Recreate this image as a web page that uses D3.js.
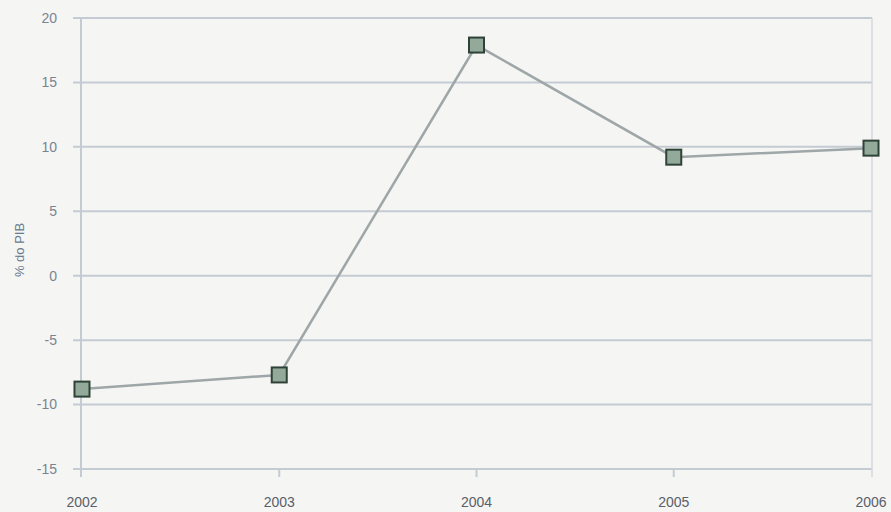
<!DOCTYPE html>
<html>
<head>
<meta charset="utf-8">
<script src="https://cdn.jsdelivr.net/npm/d3@7"></script>
<style>
  body { margin: 0; background: #f5f5f4; }
  text { font-family: "Liberation Sans", Arial, sans-serif; }
</style>
</head>
<body>
<svg id="chart" width="891" height="512"></svg>
<script>
// data
const years = ["2002", "2003", "2004", "2005", "2006"];
const values = [-8.8, -7.7, 17.9, 9.2, 9.9];
const yTicks = [-15, -10, -5, 0, 5, 10, 15, 20];

const svg = d3.select("#chart");
const margin = {left: 81, right: 19, top: 18, bottom: 43};
const width = 891 - margin.left - margin.right;
const height = 512 - margin.top - margin.bottom;

const x = d3.scalePoint().domain(years).range([0, width]).padding(0.005);
const y = d3.scaleLinear().domain([-15, 20]).range([height, 0]);

const g = svg.append("g").attr("transform", `translate(${margin.left},${margin.top})`);

// horizontal grid
g.selectAll(".grid")
  .data(yTicks)
  .join("line")
  .attr("x1", -8)
  .attr("x2", width)
  .attr("y1", d => y(d))
  .attr("y2", d => y(d))
  .attr("stroke", "#c5cbd3")
  .attr("stroke-width", 2);

// y axis line
g.append("line")
  .attr("x1", 0).attr("x2", 0)
  .attr("y1", 0).attr("y2", height + 8)
  .attr("stroke", "#c5cbd3")
  .attr("stroke-width", 2);

// right edge line
g.append("line")
  .attr("x1", width).attr("x2", width)
  .attr("y1", 0).attr("y2", height + 8)
  .attr("stroke", "#d4d8de")
  .attr("stroke-width", 1.5);

// x ticks
g.selectAll(".xtick")
  .data(years.slice(1, 4))
  .join("line")
  .attr("x1", d => x(d)).attr("x2", d => x(d))
  .attr("y1", height).attr("y2", height + 8)
  .attr("stroke", "#c5cbd3")
  .attr("stroke-width", 2);

// y tick labels
g.selectAll(".ylab")
  .data(yTicks)
  .join("text")
  .attr("x", -24)
  .attr("y", d => y(d))
  .attr("dy", "0.35em")
  .attr("text-anchor", "end")
  .attr("font-size", 14)
  .attr("fill", "#7a8490")
  .text(d => d);

// x tick labels
g.selectAll(".xlab")
  .data(years)
  .join("text")
  .attr("x", d => x(d))
  .attr("y", height + 38)
  .attr("text-anchor", "middle")
  .attr("font-size", 14)
  .attr("fill", "#5a6068")
  .text(d => d);

// y axis title
svg.append("text")
  .attr("transform", "translate(24,250) rotate(-90)")
  .attr("text-anchor", "middle")
  .attr("font-size", 13)
  .attr("fill", "#6a7a8e")
  .text("% do PIB");

// line
const line = d3.line()
  .x((d, i) => x(years[i]))
  .y(d => y(d));

g.append("path")
  .datum(values)
  .attr("fill", "none")
  .attr("stroke", "#9ea6a8")
  .attr("stroke-width", 2.5)
  .attr("d", line);

// markers
g.selectAll(".pt")
  .data(values)
  .join("rect")
  .attr("x", (d, i) => x(years[i]) - 7.5)
  .attr("y", d => y(d) - 7.5)
  .attr("width", 15)
  .attr("height", 15)
  .attr("fill", "#93aa9b")
  .attr("stroke", "#2f4237")
  .attr("stroke-width", 2);
</script>
</body>
</html>
